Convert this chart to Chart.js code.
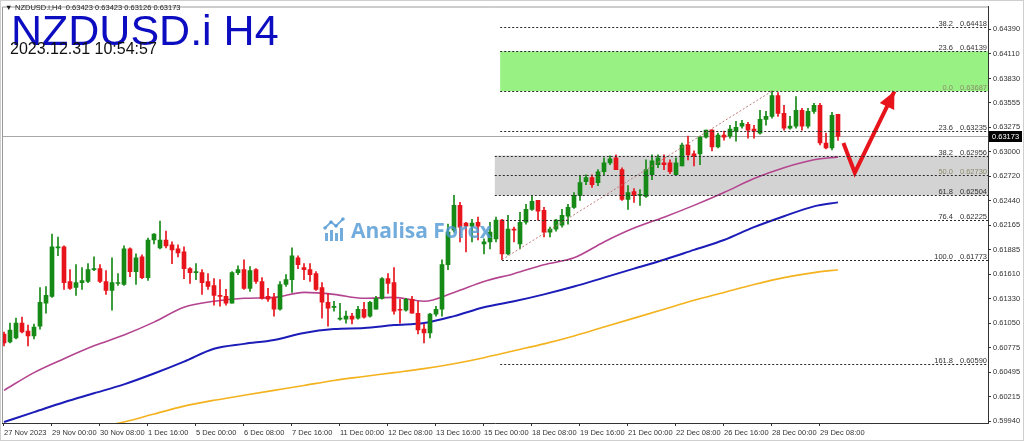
<!DOCTYPE html>
<html><head><meta charset="utf-8">
<script src="https://cdn.jsdelivr.net/npm/chart.js@4/dist/chart.umd.min.js"></script>
<style>html,body{margin:0;padding:0;background:#fff;overflow:hidden}canvas{display:block}</style>
</head><body>
<canvas id="c" width="1024" height="441"></canvas>
<script>
// ---------- DATA ----------
const barOpen = [0.60930,0.60841,0.60885,0.61054,0.60964,0.60908,0.61020,0.61279,0.61357,0.61908,
0.61919,0.61526,0.61458,0.61514,0.61526,0.61660,0.61672,0.61526,0.61425,0.61503,
0.61492,0.61896,0.61638,0.61806,0.61570,0.61997,0.61908,0.61997,0.61941,0.61896,
0.61863,0.61672,0.61627,0.61627,0.61526,0.61481,0.61368,0.61357,0.61279,0.61627,
0.61660,0.61447,0.61660,0.61526,0.61357,0.61346,0.61211,0.61492,0.61548,0.61795,
0.61683,0.61660,0.61615,0.61458,0.61290,0.61233,0.61099,0.61099,0.61133,0.61110,
0.61211,0.61133,0.61211,0.61335,0.61559,0.61514,0.61211,0.61200,0.61324,0.61166,
0.60986,0.60942,0.61155,0.61211,0.61717,0.62110,0.62390,0.62188,0.62155,0.62199,
0.61953,0.61975,0.62009,0.62222,0.61840,0.62121,0.61953,0.62199,0.62345,0.62446,
0.62334,0.62087,0.62121,0.62166,0.62267,0.62368,0.62503,0.62660,0.62705,0.62649,
0.62772,0.62873,0.62929,0.62795,0.62457,0.62548,0.62503,0.62491,0.62738,0.62851,
0.62873,0.62873,0.62738,0.62839,0.63075,0.62974,0.62974,0.63165,0.63244,0.63053,
0.63188,0.63176,0.63233,0.63289,0.63311,0.63255,0.63210,0.63367,0.63401,0.63637,
0.63435,0.63266,0.63289,0.63468,0.63289,0.63457,0.63525,0.63098,0.63042,0.63423];
const barHigh = [0.60953,0.61054,0.61110,0.61121,0.61031,0.61043,0.61458,0.61469,0.62065,0.62031,
0.61930,0.61660,0.61717,0.61683,0.61728,0.61806,0.61717,0.61649,0.61795,0.61615,
0.61930,0.61908,0.61840,0.61829,0.62020,0.62070,0.62211,0.62098,0.61975,0.61941,
0.61919,0.61683,0.61728,0.61660,0.61615,0.61559,0.61548,0.61436,0.61638,0.61705,
0.61773,0.61694,0.61672,0.61570,0.61447,0.61391,0.61526,0.61604,0.61908,0.61818,
0.61728,0.61728,0.61638,0.61514,0.61391,0.61301,0.61279,0.61189,0.61166,0.61245,
0.61290,0.61301,0.61357,0.61570,0.61615,0.61683,0.61324,0.61335,0.61357,0.61301,
0.61043,0.61166,0.61245,0.61773,0.62177,0.62503,0.62424,0.62199,0.62233,0.62256,
0.62009,0.62199,0.62256,0.62233,0.62278,0.62143,0.62312,0.62401,0.62503,0.62446,
0.62368,0.62143,0.62233,0.62345,0.62401,0.62536,0.62727,0.62738,0.62738,0.62795,
0.62929,0.62952,0.62963,0.62817,0.62615,0.62581,0.62570,0.62907,0.62963,0.62963,
0.62963,0.62907,0.62929,0.63098,0.63176,0.63008,0.63176,0.63244,0.63250,0.63210,
0.63233,0.63300,0.63345,0.63356,0.63334,0.63300,0.63468,0.63457,0.63687,0.63671,
0.63525,0.63401,0.63626,0.63491,0.63491,0.63547,0.63547,0.63210,0.63446,0.63423];
const barLow = [0.60796,0.60829,0.60874,0.60942,0.60796,0.60874,0.60986,0.61166,0.61346,0.61818,
0.61436,0.61436,0.61368,0.61436,0.61514,0.61649,0.61514,0.61380,0.61200,0.61481,
0.61481,0.61582,0.61492,0.61559,0.61537,0.61953,0.61896,0.61908,0.61728,0.61806,
0.61559,0.61503,0.61548,0.61380,0.61436,0.61256,0.61245,0.61256,0.61279,0.61604,
0.61436,0.61413,0.61503,0.61324,0.61301,0.61133,0.61200,0.61469,0.61402,0.61672,
0.61548,0.61526,0.61425,0.61110,0.61020,0.61189,0.61088,0.61054,0.61043,0.61099,
0.61110,0.61121,0.61211,0.61324,0.61391,0.61155,0.61054,0.61189,0.61166,0.60930,
0.60829,0.60885,0.61133,0.61133,0.61660,0.62087,0.61975,0.61863,0.61975,0.61997,
0.61840,0.61896,0.61975,0.61773,0.61829,0.61975,0.61896,0.62177,0.62334,0.62222,
0.62031,0.62031,0.62098,0.62143,0.62177,0.62356,0.62446,0.62626,0.62593,0.62615,
0.62738,0.62851,0.62795,0.62446,0.62345,0.62424,0.62390,0.62480,0.62682,0.62817,
0.62795,0.62750,0.62727,0.62839,0.62907,0.62839,0.62851,0.63154,0.63008,0.63042,
0.63131,0.63154,0.63120,0.63266,0.63154,0.63154,0.63199,0.63300,0.63379,0.63401,
0.63244,0.63255,0.63266,0.63244,0.63266,0.63435,0.63075,0.63030,0.63019,0.63126];
const barClose = [0.60829,0.60975,0.61054,0.60953,0.60908,0.61009,0.61290,0.61368,0.61919,0.61919,
0.61514,0.61447,0.61514,0.61537,0.61660,0.61665,0.61526,0.61425,0.61514,0.61514,
0.61896,0.61638,0.61795,0.61570,0.61997,0.62065,0.61997,0.61930,0.61885,0.61851,
0.61672,0.61627,0.61638,0.61514,0.61469,0.61368,0.61357,0.61279,0.61627,0.61660,
0.61447,0.61649,0.61526,0.61335,0.61324,0.61211,0.61492,0.61548,0.61818,0.61717,
0.61660,0.61604,0.61436,0.61290,0.61222,0.61245,0.61110,0.61133,0.61099,0.61211,
0.61121,0.61290,0.61335,0.61559,0.61503,0.61189,0.61200,0.61324,0.61166,0.60975,
0.60942,0.61155,0.61211,0.61717,0.62087,0.62390,0.62143,0.62155,0.62188,0.62155,
0.61975,0.62087,0.62222,0.61840,0.62121,0.62110,0.62199,0.62345,0.62435,0.62323,
0.62087,0.62121,0.62222,0.62278,0.62368,0.62503,0.62649,0.62705,0.62626,0.62772,
0.62873,0.62918,0.62795,0.62457,0.62536,0.62503,0.62514,0.62795,0.62896,0.62929,
0.62851,0.62772,0.62873,0.63075,0.62963,0.62952,0.63165,0.63244,0.63053,0.63188,
0.63165,0.63255,0.63277,0.63322,0.63244,0.63233,0.63367,0.63401,0.63637,0.63435,
0.63266,0.63289,0.63468,0.63289,0.63457,0.63525,0.63098,0.63042,0.63412,0.63173];

const xTickIndex = [0,8,16,24,32,40,48,56,64,72,80,88,96,104,112,120,128,136];
const xTickLabels = ["27 Nov 2023","29 Nov 00:00","30 Nov 08:00","1 Dec 16:00","5 Dec 00:00","6 Dec 08:00",
"7 Dec 16:00","11 Dec 00:00","12 Dec 08:00","13 Dec 16:00","15 Dec 00:00","18 Dec 08:00","19 Dec 16:00",
"21 Dec 00:00","22 Dec 08:00","26 Dec 16:00","28 Dec 00:00","29 Dec 08:00"];
const yTickValues = [0.64390,0.64110,0.63830,0.63555,0.63275,0.63000,0.62720,0.62440,0.62165,0.61885,
0.61610,0.61330,0.61050,0.60775,0.60495,0.60215,0.59940];

const maIndex = [0,5,10,15,20,25,30,35,40,45,50,55,60,65,70,75,80,85,90,95,100,105,110,115,120,125,130,135,139];
const maMagenta = [0.60290,0.60492,0.60650,0.60796,0.60919,0.61065,0.61234,0.61301,0.61335,0.61346,0.61402,0.61380,0.61335,0.61346,0.61301,
0.61402,0.61526,0.61615,0.61717,0.61795,0.61975,0.62132,0.62256,0.62390,0.62536,0.62694,0.62817,0.62907,0.62941];
const maBlue = [0.59931,0.60043,0.60156,0.60257,0.60358,0.60481,0.60616,0.60762,0.60818,0.60863,0.60942,0.60986,0.60998,0.61031,0.61054,
0.61133,0.61234,0.61301,0.61380,0.61469,0.61570,0.61672,0.61773,0.61885,0.61997,0.62143,0.62267,0.62379,0.62424];
const orangeIndex = [15,20,25,30,35,40,45,50,55,60,65,70,75,80,85,90,95,100,105,110,115,120,125,130,135,139];
const maOrange = [0.59863,0.59931,0.60021,0.60111,0.60178,0.60234,0.60290,0.60346,0.60403,0.60448,0.60492,0.60537,0.60593,
0.60661,0.60740,0.60818,0.60908,0.61009,0.61110,0.61211,0.61312,0.61402,0.61492,0.61570,0.61627,0.61660];

const fibPct = ["38.2","23.6","0.0","23.6","38.2","50.0","61.8","76.4","100.0","161.8"];
const fibValue = [0.64418,0.64139,0.63687,0.63235,0.62956,0.62730,0.62504,0.62225,0.61773,0.60590];
const fibStart = [82.7,82.7,82.7,82.7,81.8,81.8,81.8,83,83,82.7];
const greenZone = [0.64139,0.63687];
const grayZone = [0.62956,0.62504];
const zoneStart = [82.7,81.8];
const fibTrendIndex = [83,128];
const fibTrendPrice = [0.61773,0.63687];
const arrowIndex = [139.9,141.8,148.4];
const arrowPrice = [0.63098,0.62761,0.63685];
const lastPrice = 0.63173;
const headerText = "NZDUSD.i,H4  0.63423 0.63423 0.63126 0.63173";
const titleText = "NZDUSD.i H4";
const dateText = "2023.12.31 10:54:57";

// ---------- STYLE ----------
const GREEN = '#168a16', RED = '#e8141c';
const candleColor = barOpen.map((o,i)=> barClose[i] >= o ? GREEN : RED);

const plugin = {
  id:'mt4',
  beforeDatasetsDraw(chart){
    const {ctx, chartArea:a, scales:{x,y}} = chart;
    ctx.save();
    const zone=(s,p1,p2,c)=>{const x0=x.getPixelForValue(s);const y1=y.getPixelForValue(p1),y2=y.getPixelForValue(p2);
      ctx.fillStyle=c;ctx.fillRect(x0,Math.min(y1,y2),a.right-x0,Math.abs(y2-y1));};
    zone(zoneStart[0],greenZone[0],greenZone[1],'#98f283');
    zone(zoneStart[1],grayZone[0],grayZone[1],'#d3d3d3');
    const yb=Math.round(y.getPixelForValue(lastPrice))+0.5;
    ctx.strokeStyle='#a8a8a8';ctx.lineWidth=1;ctx.beginPath();ctx.moveTo(a.left,yb);ctx.lineTo(a.right,yb);ctx.stroke();
    ctx.restore();
  },
  afterDatasetsDraw(chart){
    const {ctx, chartArea:a, scales:{x,y}} = chart;
    ctx.save();
    ctx.beginPath();ctx.rect(a.left,a.top,a.right-a.left,a.bottom-a.top);ctx.clip();
    // fib levels
    ctx.lineWidth=1;ctx.setLineDash([2,2]);ctx.strokeStyle='#2a2a2a';
    ctx.font='7.5px "Liberation Sans"';ctx.textBaseline='alphabetic';ctx.textAlign='right';
    fibValue.forEach((v,k)=>{
      const yy=Math.round(y.getPixelForValue(v))+0.5;const x0=x.getPixelForValue(fibStart[k]);
      ctx.beginPath();ctx.moveTo(x0,yy);ctx.lineTo(a.right,yy);ctx.stroke();
      const light = (fibPct[k]==="0.0"||fibPct[k]==="50.0");
      ctx.fillStyle= light ? '#8c8c6c' : '#333';
      ctx.fillText(fibPct[k],953,yy-2);
      ctx.fillText(v.toFixed(5),987,yy-2);
    });
    ctx.setLineDash([]);
    // arrowhead
    const n=arrowIndex.length;
    const tx=x.getPixelForValue(arrowIndex[n-1]),ty=y.getPixelForValue(arrowPrice[n-1]);
    const px=x.getPixelForValue(arrowIndex[n-2]),py=y.getPixelForValue(arrowPrice[n-2]);
    const ang=Math.atan2(ty-py,tx-px);const L=17,W=8;
    ctx.fillStyle=RED;ctx.beginPath();ctx.moveTo(tx,ty);
    ctx.lineTo(tx-L*Math.cos(ang)+W*Math.sin(ang),ty-L*Math.sin(ang)-W*Math.cos(ang));
    ctx.lineTo(tx-L*Math.cos(ang)-W*Math.sin(ang),ty-L*Math.sin(ang)+W*Math.cos(ang));
    ctx.closePath();ctx.fill();
    // watermark
    ctx.globalAlpha=0.8;ctx.fillStyle='#4f97d3';ctx.strokeStyle='#4f97d3';
    [[325,233,8],[330,230,11],[335,233,8],[340,228,13]].forEach(b=>{ctx.fillRect(b[0],b[1],3,b[2]);});
    ctx.lineWidth=2;ctx.beginPath();ctx.moveTo(325,228);ctx.lineTo(331,222);ctx.lineTo(336,226);ctx.lineTo(343,219);ctx.stroke();
    [[325,228],[331,222],[336,226],[343,219]].forEach(p=>{ctx.beginPath();ctx.arc(p[0],p[1],1.8,0,Math.PI*2);ctx.fill();});
    ctx.font='bold 21px "Open Sans"';ctx.textAlign='left';ctx.fillText('Analisa Forex',351,238);
    ctx.restore();
  },
  afterDraw(chart){
    const {ctx, chartArea:a, scales:{y}} = chart;
    ctx.save();
    // frame
    ctx.strokeStyle='#9a9a9a';ctx.lineWidth=1;
    ctx.beginPath();ctx.moveTo(a.left+0.5,a.bottom);ctx.lineTo(a.left+0.5,a.top+0.5);ctx.lineTo(a.right,a.top+0.5);ctx.stroke();
    ctx.strokeStyle='#cfcfcf';ctx.strokeRect(0.5,0.5,1023,440);
    // price box
    const yb=Math.round(y.getPixelForValue(lastPrice));
    ctx.fillStyle='#000';ctx.fillRect(a.right+1,yb-5,33,11);
    ctx.fillStyle='#fff';ctx.font='7.5px "Liberation Sans"';ctx.textAlign='left';ctx.textBaseline='middle';
    ctx.fillText(lastPrice.toFixed(5),a.right+4,yb+0.5);
    // header
    ctx.fillStyle='#222';ctx.font='7.5px "Liberation Sans"';
    ctx.fillText('\u25BC',5,8);ctx.fillText(headerText,15,8);
    // title
    ctx.textBaseline='alphabetic';
    ctx.fillStyle='#0c0cc0';ctx.font='43px "Liberation Sans"';ctx.fillText(titleText,11,45);
    ctx.fillStyle='#111';ctx.font='16px "Liberation Sans"';ctx.fillText(dateText,10,54);
    ctx.restore();
  }
};

const labelFont = {family:'Liberation Sans', size:7.5};
new Chart(document.getElementById('c'),{
  type:'bar',
  data:{datasets:[
    {type:'line',data:orangeIndex.map((v,k)=>({x:v,y:maOrange[k]})),borderColor:'#f4b21f',borderWidth:1.6,pointRadius:0,cubicInterpolationMode:'monotone',order:5},
    {type:'line',data:maIndex.map((v,k)=>({x:v,y:maBlue[k]})),borderColor:'#1c1cb8',borderWidth:2,pointRadius:0,cubicInterpolationMode:'monotone',order:4},
    {type:'line',data:maIndex.map((v,k)=>({x:v,y:maMagenta[k]})),borderColor:'#b4448f',borderWidth:1.6,pointRadius:0,cubicInterpolationMode:'monotone',order:3},
    {type:'bar',data:barLow.map((l,i)=>({x:i,y:[l,barHigh[i]]})),backgroundColor:candleColor,barThickness:1,grouped:false,order:2},
    {type:'bar',data:barOpen.map((o,i)=>({x:i,y:[o,barClose[i]]})),backgroundColor:candleColor,barThickness:4,minBarLength:1,grouped:false,order:1},
    {type:'line',data:fibTrendIndex.map((v,k)=>({x:v,y:fibTrendPrice[k]})),borderColor:'#c07a7a',borderWidth:1,borderDash:[2,2],pointRadius:0,order:0},
    {type:'line',data:arrowIndex.map((v,k)=>({x:v,y:arrowPrice[k]})),borderColor:RED,borderWidth:4,pointRadius:0,borderJoinStyle:'miter',order:-1}
  ]},
  options:{
    responsive:false,animation:false,devicePixelRatio:1,
    layout:{padding:{left:2,top:2,right:0,bottom:0}},
    plugins:{legend:{display:false},tooltip:{enabled:false}},
    scales:{
      x:{type:'linear',min:-0.333,max:164,offset:false,
        afterBuildTicks:s=>{s.ticks=xTickIndex.map(v=>({value:v}));},
        afterFit:s=>{s.height=18;},
        ticks:{autoSkip:false,maxRotation:0,minRotation:0,align:'start',padding:2,color:'#333',font:labelFont,
          callback:v=>{const k=xTickIndex.indexOf(v);return k>=0?xTickLabels[k]:'';}},
        grid:{drawOnChartArea:false,offset:false,tickLength:3,color:'#333'},
        border:{display:true,color:'#333'}},
      y:{type:'linear',position:'right',min:0.5991971,max:0.6464754,
        afterBuildTicks:s=>{s.ticks=yTickValues.map(v=>({value:v}));},
        afterFit:s=>{s.width=36;},
        ticks:{padding:2,color:'#333',font:labelFont,callback:v=>Number(v).toFixed(5)},
        grid:{drawOnChartArea:false,tickLength:3,color:'#333'},
        border:{display:true,color:'#333'}}
    }
  },
  plugins:[plugin]
});
</script>
</body></html>
